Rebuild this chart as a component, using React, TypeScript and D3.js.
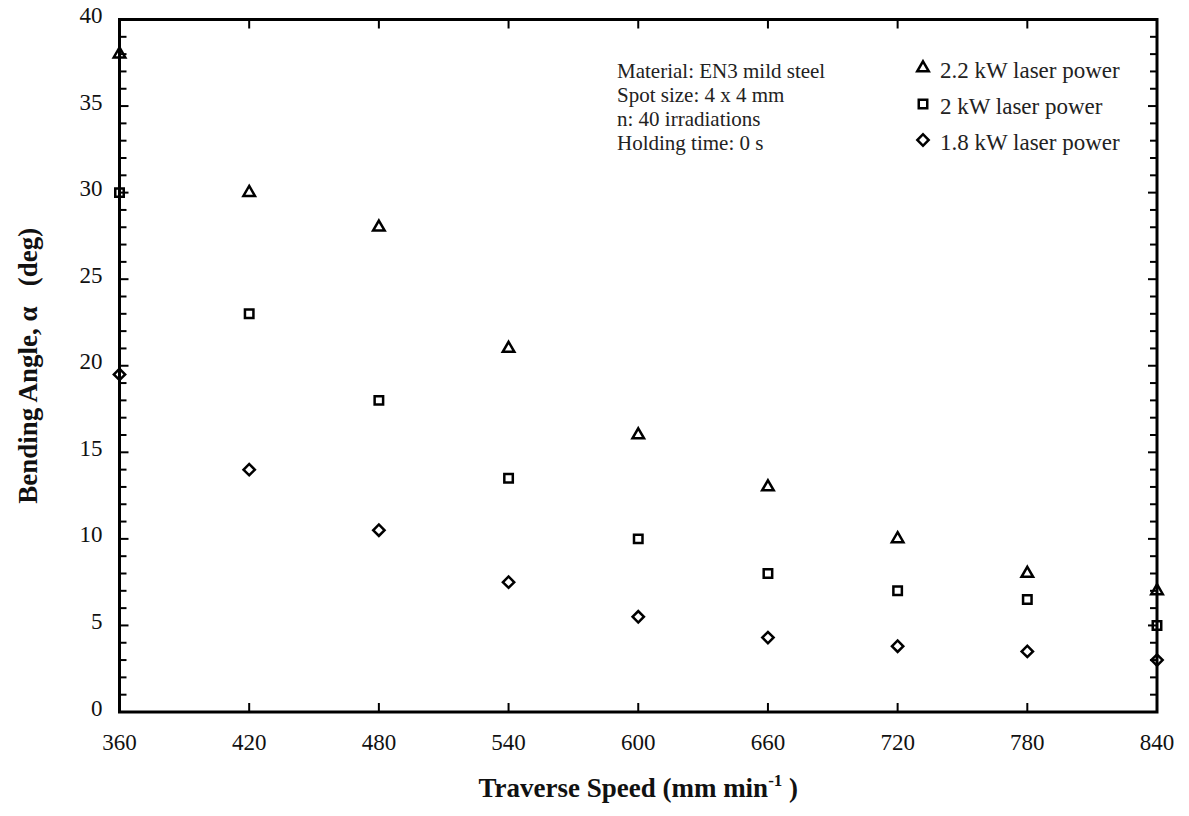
import * as d3 from 'd3';

const speeds = [360, 420, 480, 540, 600, 660, 720, 780, 840];
const angle22kW = [38, 30, 28, 21, 16, 13, 10, 8, 7];
const angle2kW = [30, 23, 18, 13.5, 10, 8, 7, 6.5, 5];
const angle18kW = [19.5, 14, 10.5, 7.5, 5.5, 4.3, 3.8, 3.5, 3];

const legendLabels = ['2.2 kW laser power', '2 kW laser power', '1.8 kW laser power'];
const noteLines = [
  'Material: EN3 mild steel',
  'Spot size: 4 x 4 mm',
  'n: 40 irradiations',
  'Holding time: 0 s',
];

const W = 1189;
const H = 816;
const margin = { top: 19.5, right: 32, bottom: 104, left: 119.5 };
const FONT = '"Liberation Serif", "Times New Roman", serif';

const triangle = d3.symbol().type(d3.symbolTriangle).size(58)()!;
const square = d3.symbol().type(d3.symbolSquare).size(72)()!;
const diamond = d3.symbol().type(d3.symbolSquare).size(64)()!;

const series = [
  { values: angle22kW, path: triangle, rot: 0 },
  { values: angle2kW, path: square, rot: 0 },
  { values: angle18kW, path: diamond, rot: 45 },
];

export default function App() {
  const x = d3.scaleLinear().domain([360, 840]).range([margin.left, W - margin.right]);
  const y = d3.scaleLinear().domain([0, 40]).range([H - margin.bottom, margin.top]);
  const [x0, x1] = x.range();
  const [y0, y1] = y.range();

  const yMinor = d3.range(0, 41, 1);
  const yMajor = d3.range(0, 41, 5);
  const xMajor = d3.range(360, 841, 60);

  return (
    <svg width={W} height={H} style={{ position: 'absolute', left: 0, top: 0, background: '#fff' }}
      fontFamily={FONT}>
      {/* y ticks on both sides, pointing in */}
      <g stroke="#000" strokeWidth={2}>
        {yMinor.map(v => {
          const len = v % 5 === 0 ? 9 : 7;
          return (
            <g key={v}>
              <line x1={x0} x2={x0 + len} y1={y(v)} y2={y(v)} />
              <line x1={x1} x2={x1 - len} y1={y(v)} y2={y(v)} />
            </g>
          );
        })}
        {xMajor.map(v => (
          <g key={v}>
            <line x1={x(v)} x2={x(v)} y1={y0} y2={y0 - 9} />
            <line x1={x(v)} x2={x(v)} y1={y1} y2={y1 + 9} />
          </g>
        ))}
      </g>
      <rect x={x0} y={y1} width={x1 - x0} height={y0 - y1} fill="none" stroke="#000" strokeWidth={3} />

      {/* tick labels */}
      <g fontSize={23} fill="#111">
        {yMajor.map(v => (
          <text key={v} x={x0 - 17} y={y(v) - 4} textAnchor="end" dominantBaseline="central">{v}</text>
        ))}
        {xMajor.map(v => (
          <text key={v} x={x(v)} y={y0 + 38} textAnchor="middle">{v}</text>
        ))}
      </g>

      {/* points */}
      <g fill="none" stroke="#000" strokeWidth={2.5}>
        {series.map((s, i) => (
          <g key={i}>
            {s.values.map((v, j) => (
              <path key={j} d={s.path}
                transform={`translate(${x(speeds[j])},${y(v)}) rotate(${s.rot})`} />
            ))}
          </g>
        ))}
      </g>

      {/* notes */}
      <g fontSize={21} fill="#222">
        {noteLines.map((t, i) => (
          <text key={i} x={617} y={78 + i * 24}>{t}</text>
        ))}
      </g>

      {/* legend */}
      <g fontSize={23} fill="#222">
        {series.map((s, i) => (
          <g key={i} transform={`translate(923,${68 + i * 36})`}>
            <path d={s.path} transform={`rotate(${s.rot})`} fill="none" stroke="#000" strokeWidth={2.5} />
            <text x={17} y={10}>{legendLabels[i]}</text>
          </g>
        ))}
      </g>

      {/* axis titles */}
      <text x={(x0 + x1) / 2} y={797} textAnchor="middle" fontSize={27} fontWeight="bold" fill="#111">
        Traverse Speed (mm min<tspan dy={-11} fontSize={17}>-1</tspan><tspan dy={11}> )</tspan>
      </text>
      <text transform={`translate(37,${(y0 + y1) / 2}) rotate(-90)`} textAnchor="middle"
        fontSize={27} fontWeight="bold" fill="#111" style={{ whiteSpace: 'pre' }}>
        {'Bending Angle, α   (deg)'}
      </text>
    </svg>
  );
}
